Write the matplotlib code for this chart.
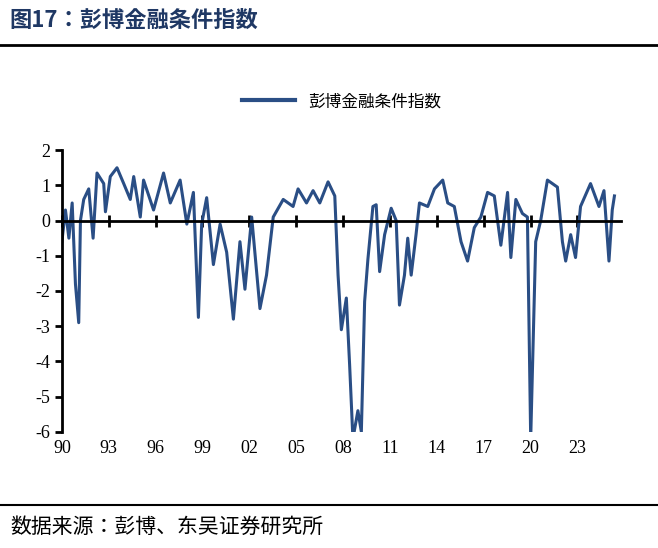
import matplotlib.pyplot as plt
from matplotlib.lines import Line2D
import matplotlib.transforms as mtransforms

# ────────────────────────────────
# Data (fractional years)
# ────────────────────────────────
years = [1990.0, 1990.23, 1990.45, 1990.66, 1990.87, 1991.08, 1991.19, 1991.4, 1991.72, 1992.0,
         1992.25, 1992.68, 1992.79, 1993.1, 1993.53, 1993.96, 1994.38, 1994.6, 1995.02, 1995.23,
         1995.87, 1996.51, 1996.94, 1997.57, 1998.0, 1998.42, 1998.74, 1998.95, 1999.27, 1999.7,
         2000.13, 2000.55, 2000.98, 2001.4, 2001.72, 2002.15, 2002.68, 2003.1, 2003.53, 2004.17,
         2004.8, 2005.12, 2005.66, 2006.08, 2006.51, 2007.04, 2007.47, 2007.68, 2007.89, 2008.21,
         2008.42, 2008.63, 2008.95, 2009.17, 2009.38, 2009.59, 2009.91, 2010.12, 2010.34, 2010.66,
         2011.08, 2011.4, 2011.61, 2011.93, 2012.14, 2012.36, 2012.67, 2012.89, 2013.42, 2013.85,
         2014.38, 2014.7, 2015.12, 2015.55, 2015.97, 2016.4, 2016.82, 2017.25, 2017.68, 2018.1,
         2018.53, 2018.74, 2019.06, 2019.48, 2019.8, 2020.01, 2020.33, 2020.65, 2021.08, 2021.72,
         2022.04, 2022.25, 2022.57, 2022.88, 2023.2, 2023.84, 2024.38, 2024.7, 2025.02, 2025.23,
         2025.37]
fci = [-0.6, 0.3, -0.5, 0.5, -1.8, -2.9, 0.0, 0.6, 0.9, -0.5,
       1.35, 1.05, 0.25, 1.25, 1.5, 1.05, 0.6, 1.25, 0.1, 1.15,
       0.3, 1.35, 0.5, 1.15, -0.1, 0.8, -2.75, -0.1, 0.65, -1.25,
       -0.1, -0.9, -2.8, -0.6, -1.95, 0.1, -2.5, -1.55, 0.1, 0.6,
       0.4, 0.9, 0.5, 0.85, 0.5, 1.1, 0.7, -1.55, -3.1, -2.2,
       -4.1, -6.2, -5.4, -6.0, -2.3, -1.1, 0.4, 0.45, -1.45, -0.4,
       0.35, 0.0, -2.4, -1.55, -0.5, -1.55, -0.4, 0.5, 0.4, 0.9,
       1.15, 0.5, 0.4, -0.6, -1.15, -0.2, 0.1, 0.8, 0.7, -0.7,
       0.8, -1.05, 0.6, 0.2, 0.1, -6.2, -0.6, 0.0, 1.15, 0.95,
       -0.6, -1.15, -0.4, -1.05, 0.4, 1.05, 0.4, 0.85, -1.15, 0.3,
       0.7]

tick_years = [1990, 1993, 1996, 1999, 2002, 2005, 2008, 2011, 2014, 2017, 2020, 2023]
tick_labels = ["90", "93", "96", "99", "02", "05", "08", "11", "14", "17", "20", "23"]
y_ticks = [2, 1, 0, -1, -2, -3, -4, -5, -6]

NAVY = "#2a4e85"
TITLE_C = "#1f3864"
CJK = ["Noto Sans CJK SC", "Noto Sans CJK JP", "Noto Sans CJK TC", "Noto Sans CJK KR"]
SERIF = "Liberation Serif"

fig = plt.figure(figsize=(6.58, 5.48), dpi=100)
ax = fig.add_axes([0.094, 0.212, 0.85, 0.514])

ax.plot(years, fci, color=NAVY, linewidth=2.2)
ax.set_xlim(1990, 2025.8)
ax.set_ylim(-6, 2)

# x axis sits on y=0, labels at the bottom
ax.spines["bottom"].set_position(("data", 0))
ax.spines["bottom"].set_linewidth(2)
ax.spines["left"].set_linewidth(2)
for s in ("top", "right"):
    ax.spines[s].set_visible(False)
ax.set_xticks(tick_years)
ax.tick_params(axis="x", direction="inout", length=8, width=2, labelbottom=False)
ax.set_yticks(y_ticks)
ax.set_yticklabels([str(v) for v in y_ticks], fontfamily=SERIF, fontsize=13)
ax.tick_params(axis="y", direction="out", length=5, width=2)

trans = mtransforms.blended_transform_factory(ax.transData, ax.transAxes)
for yr, lab in zip(tick_years, tick_labels):
    ax.text(yr, -0.03, lab, transform=trans, ha="center", va="top",
            fontfamily=SERIF, fontsize=13)

leg = ax.legend([Line2D([0], [0], color=NAVY, linewidth=3)], ["彭博金融条件指数"],
                loc="upper center", bbox_to_anchor=(0.5, 1.255), frameon=False,
                prop={"family": CJK, "size": 12}, handlelength=3.2)

# title and footer
fig.text(0.015, 0.963, "图17：彭博金融条件指数", fontfamily=CJK, fontsize=16,
         fontweight="bold", color=TITLE_C, va="center")
fig.add_artist(Line2D([0, 1], [0.918, 0.918], color="black", linewidth=2))
fig.add_artist(Line2D([0, 1], [0.078, 0.078], color="black", linewidth=1.5))
fig.text(0.015, 0.038, "数据来源：彭博、东吴证券研究所", fontfamily=CJK, fontsize=15,
         va="center")

fig.savefig("out.png", dpi=100)
